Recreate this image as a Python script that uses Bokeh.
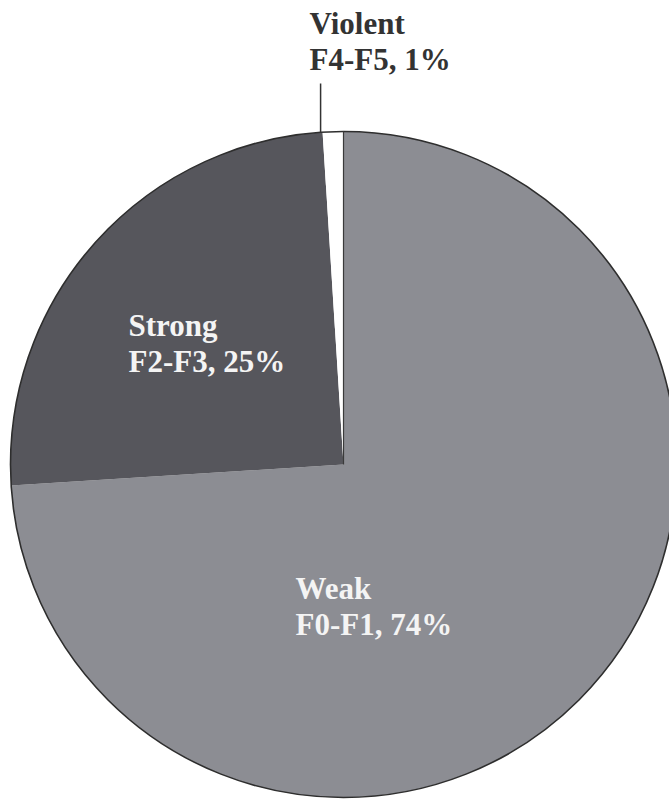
import math
from bokeh.plotting import figure
from bokeh.models import Range1d, ColumnDataSource
from bokeh.core.properties import value
from bokeh.embed import file_html
from bokeh.resources import INLINE

# ---- data ----
categories = ["Weak", "Strong", "Violent"]
scales = ["F0-F1", "F2-F3", "F4-F5"]
percents = [74, 25, 1]

# ---- style / layout ----
colors = ["#8c8d93", "#56565c", "#ffffff"]
text_colors = ["#f4f4f4", "#f4f4f4", "#333333"]
W, H = 669, 807
CX, CY_PX, R = 343, 464, 333
# label top-left anchors, in pixels from the top-left of the page
label_px = [(295, 570), (128, 307), (309, 5)]
FONT = "Liberation Serif"

CY = H - CY_PX

total = float(sum(percents))
cum = 0.0
starts, ends = [], []
for v in percents:
    a0 = cum / total
    cum += v
    a1 = cum / total
    # clockwise from 12 o'clock
    starts.append(math.radians(90 - a1 * 360))
    ends.append(math.radians(90 - a0 * 360))

src = ColumnDataSource(dict(
    cat=categories, start=starts, end=ends, color=colors,
))

p = figure(width=W, height=H, x_range=Range1d(0, W), y_range=Range1d(0, H),
           output_backend="svg", toolbar_location=None,
           x_axis_location=None, y_axis_location=None, min_border=0)
p.grid.visible = False
p.outline_line_color = None
p.background_fill_color = "white"
p.border_fill_color = "white"

p.wedge(x=CX, y=CY, radius=R, start_angle="start", end_angle="end",
        direction="anticlock", fill_color="color", line_color=None, source=src)

# outline of the pie
p.circle(x=[CX], y=[CY], radius=R, fill_color=None, line_color="#2e2e2e", line_width=1.6)

# dark edge on the right (12 o'clock) side of the violent slice
p.segment(x0=[CX], y0=[CY], x1=[CX + R * math.cos(starts[2])], y1=[CY + R * math.sin(starts[2])],
          line_color="#3a3a3a", line_width=1.2)

# labels
texts = [f"{c}\n{s}, {v}%" for c, s, v in zip(categories, scales, percents)]
lsrc = ColumnDataSource(dict(
    x=[lp[0] for lp in label_px], y=[H - lp[1] for lp in label_px],
    t=texts, c=text_colors,
))
p.text(x="x", y="y", text="t", text_color="c", source=lsrc,
       text_font=value(FONT), text_font_style="bold", text_font_size="31px",
       text_align="left", text_baseline="top", text_line_height=1.05)

# leader line for the small slice: from the slice's left edge up toward its label
vx = CX + R * math.cos(ends[2]) - 2
vy = CY + R * math.sin(ends[2])
p.segment(x0=[vx], y0=[vy], x1=[vx], y1=[H - 83], line_color="#333333", line_width=1.5)

open("out.html", "w").write(file_html(p, INLINE))
